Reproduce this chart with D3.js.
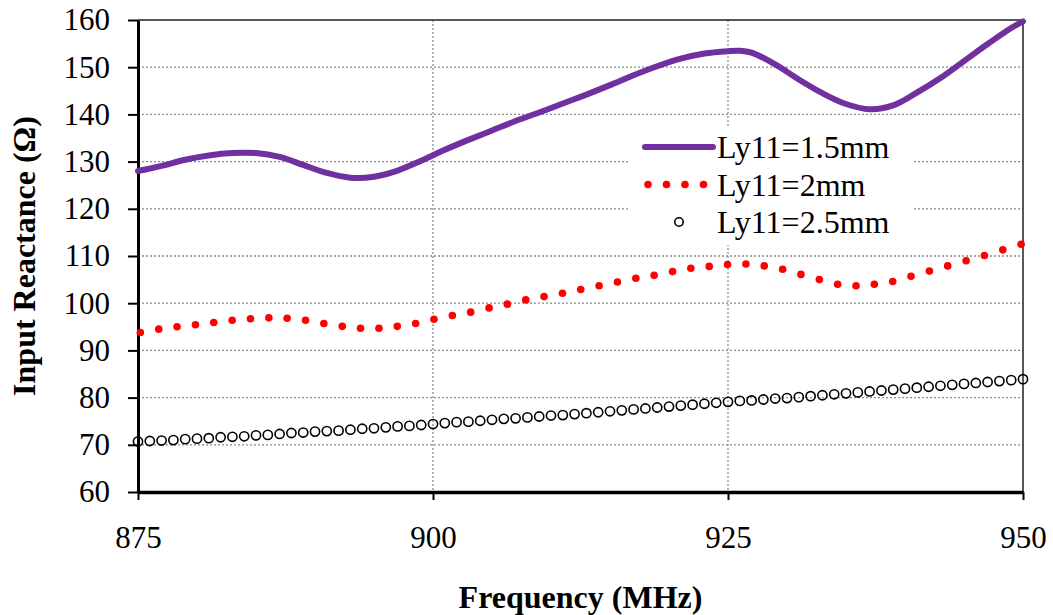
<!DOCTYPE html>
<html>
<head>
<meta charset="utf-8">
<script src="https://cdn.jsdelivr.net/npm/d3@7"></script>
<style>
  html, body { margin: 0; padding: 0; background: #fff; }
  svg { display: block; font-family: "Liberation Serif", "Times New Roman", serif; }
</style>
</head>
<body>
<div id="chart"></div>
<script>
// Ly11 = 1.5 mm (solid purple line)
const freq15 = [875, 877, 879, 881, 883, 885, 887, 889, 891, 893, 895, 897, 899, 901, 903, 905, 907, 909,
  911, 913, 915, 917, 919, 921, 923, 925, 926, 927, 929, 931, 933, 935, 937, 939, 941, 943, 945, 947, 949, 950];
const react15 = [128.0, 129.1, 130.4, 131.3, 131.8, 131.8, 131.0, 129.3, 127.6, 126.6, 126.8, 128.1, 130.2,
  132.5, 134.6, 136.6, 138.6, 140.4, 142.3, 144.2, 146.2, 148.3, 150.2, 151.8, 152.9, 153.4, 153.5, 153.1,
  150.6, 147.4, 144.5, 142.2, 141.1, 141.9, 144.6, 147.7, 151.3, 154.9, 158.3, 159.7];

// Ly11 = 2 mm (red dots)
const freq2 = [875.20, 876.76, 878.31, 879.87, 881.42, 882.98, 884.53, 886.09, 887.64, 889.20, 890.75,
  892.31, 893.86, 895.42, 896.97, 898.53, 900.08, 901.64, 903.19, 904.75, 906.30, 907.86, 909.41, 910.97,
  912.52, 914.08, 915.63, 917.19, 918.74, 920.30, 921.85, 923.41, 924.96, 926.52, 928.07, 929.63, 931.18,
  932.74, 934.29, 935.85, 937.40, 938.96, 940.51, 942.07, 943.62, 945.18, 946.73, 948.29, 949.84];
const react2 = [93.8, 94.5, 95.0, 95.45, 95.9, 96.4, 96.7, 96.9, 96.8, 96.4, 95.7, 95.1, 94.7, 94.7, 95.1,
  95.7, 96.6, 97.4, 98.1, 99.0, 99.8, 100.7, 101.4, 102.1, 102.9, 103.7, 104.5, 105.3, 105.9, 106.7, 107.4,
  107.8, 108.2, 108.3, 107.9, 107.2, 106.1, 105.0, 104.0, 103.7, 104.0, 104.6, 105.7, 106.8, 107.9, 109.0,
  110.1, 111.3, 112.5];

// Ly11 = 2.5 mm (open circles)
const freq25 = [875, 876, 877, 878, 879, 880, 881, 882, 883, 884, 885, 886, 887, 888, 889, 890, 891, 892,
  893, 894, 895, 896, 897, 898, 899, 900, 901, 902, 903, 904, 905, 906, 907, 908, 909, 910, 911, 912, 913,
  914, 915, 916, 917, 918, 919, 920, 921, 922, 923, 924, 925, 926, 927, 928, 929, 930, 931, 932, 933, 934,
  935, 936, 937, 938, 939, 940, 941, 942, 943, 944, 945, 946, 947, 948, 949, 950];
const react25 = [70.7, 70.8, 70.9, 71.0, 71.2, 71.3, 71.4, 71.6, 71.7, 71.8, 72.0, 72.1, 72.3, 72.5, 72.6,
  72.8, 72.9, 73.0, 73.2, 73.4, 73.5, 73.7, 73.9, 74.0, 74.2, 74.4, 74.6, 74.8, 74.9, 75.1, 75.3, 75.5, 75.6,
  75.8, 76.0, 76.2, 76.3, 76.5, 76.7, 76.9, 77.1, 77.3, 77.5, 77.7, 77.9, 78.1, 78.3, 78.5, 78.7, 78.9, 79.1,
  79.3, 79.4, 79.6, 79.8, 79.9, 80.1, 80.3, 80.5, 80.7, 80.9, 81.1, 81.3, 81.5, 81.7, 81.9, 82.1, 82.3, 82.5,
  82.7, 82.9, 83.1, 83.3, 83.5, 83.7, 83.9];

const xTicks = [875, 900, 925, 950];
const yTicks = [60, 70, 80, 90, 100, 110, 120, 130, 140, 150, 160];
const legendLabels = ["Ly11=1.5mm", "Ly11=2mm", "Ly11=2.5mm"];

const width = 1053;
const height = 615;
const marginTop = 20;
const marginRight = 30;
const marginBottom = 123;
const marginLeft = 138;

const x = d3.scaleLinear()
    .domain([875, 950])
    .range([marginLeft, width - marginRight]);

const y = d3.scaleLinear()
    .domain([60, 160])
    .range([height - marginBottom, marginTop]);

const svg = d3.select("#chart")
  .append("svg")
    .attr("width", width)
    .attr("height", height)
    .attr("viewBox", [0, 0, width, height]);

// dotted grid lines
svg.append("g")
    .attr("stroke", "#8c8c8c")
    .attr("stroke-width", 1.3)
    .attr("stroke-dasharray", "2,2")
  .selectAll("line")
  .data(yTicks.filter(d => d > 60 && d < 160))
  .join("line")
    .attr("x1", marginLeft)
    .attr("x2", width - marginRight)
    .attr("y1", d => y(d))
    .attr("y2", d => y(d));

svg.append("g")
    .attr("stroke", "#8c8c8c")
    .attr("stroke-width", 1.3)
    .attr("stroke-dasharray", "2,2")
  .selectAll("line")
  .data(xTicks.filter(d => d > 875 && d < 950))
  .join("line")
    .attr("x1", d => x(d))
    .attr("x2", d => x(d))
    .attr("y1", marginTop)
    .attr("y2", height - marginBottom);

// plot area border (top and right)
svg.append("path")
    .attr("fill", "none")
    .attr("stroke", "#222")
    .attr("stroke-width", 1.5)
    .attr("d", `M${marginLeft},${y(160)}H${x(950)}V${y(60)}`);

// x axis
svg.append("g")
    .attr("transform", `translate(0,${y(60)})`)
    .call(d3.axisBottom(x).tickValues(xTicks).tickSize(8).tickSizeOuter(0).tickPadding(26))
    .call(g => g.select(".domain").attr("stroke-width", 3.5))
    .call(g => g.selectAll(".tick line").attr("stroke-width", 2))
    .call(g => g.selectAll(".tick text")
        .attr("font-size", 31)
        .attr("font-family", "Liberation Serif, Times New Roman, serif")
        .attr("fill", "#000"));

// y axis
svg.append("g")
    .attr("transform", `translate(${marginLeft},0)`)
    .call(d3.axisLeft(y).tickValues(yTicks).tickSize(10).tickSizeOuter(0).tickPadding(18))
    .call(g => g.select(".domain").attr("stroke-width", 3))
    .call(g => g.selectAll(".tick line").attr("stroke-width", 2))
    .call(g => g.selectAll(".tick text")
        .attr("font-size", 31)
        .attr("font-family", "Liberation Serif, Times New Roman, serif")
        .attr("fill", "#000"));

// Ly11 = 2.5 mm circles
svg.append("g")
    .attr("fill", "none")
    .attr("stroke", "#000")
    .attr("stroke-width", 1.6)
  .selectAll("circle")
  .data(freq25.map((f, i) => [f, react25[i]]))
  .join("circle")
    .attr("cx", d => x(d[0]))
    .attr("cy", d => y(d[1]))
    .attr("r", 4.6);

// Ly11 = 2 mm dots
svg.append("g")
    .attr("fill", "#ff0000")
  .selectAll("circle")
  .data(freq2.map((f, i) => [f, react2[i]]))
  .join("circle")
    .attr("cx", d => x(d[0]))
    .attr("cy", d => y(d[1]))
    .attr("r", 3.8);

// Ly11 = 1.5 mm line
const line = d3.line()
    .x(d => x(d[0]))
    .y(d => y(d[1]))
    .curve(d3.curveCatmullRom);

svg.append("path")
    .datum(freq15.map((f, i) => [f, react15[i]]))
    .attr("fill", "none")
    .attr("stroke", "#7030a0")
    .attr("stroke-width", 6)
    .attr("stroke-linecap", "round")
    .attr("d", line);

// legend
const legend = svg.append("g").attr("transform", "translate(645,147)");
const rowGap = 37.5;

legend.append("rect")
    .attr("x", -17).attr("y", -19)
    .attr("width", 284).attr("height", 117)
    .attr("fill", "#fff");

legend.append("line")
    .attr("x1", 0).attr("x2", 68)
    .attr("y1", 0).attr("y2", 0)
    .attr("stroke", "#7030a0")
    .attr("stroke-width", 6)
    .attr("stroke-linecap", "round");

legend.append("g")
    .attr("fill", "#ff0000")
  .selectAll("circle")
  .data([3, 21.5, 40, 58.5])
  .join("circle")
    .attr("cx", d => d)
    .attr("cy", rowGap)
    .attr("r", 3.8);

legend.append("circle")
    .attr("cx", 34).attr("cy", rowGap * 2)
    .attr("r", 4.2)
    .attr("fill", "none")
    .attr("stroke", "#000")
    .attr("stroke-width", 1.6);

legend.selectAll("text")
  .data(legendLabels)
  .join("text")
    .attr("x", 72)
    .attr("y", (d, i) => i * rowGap + 11)
    .attr("font-size", 32)
    .attr("fill", "#000")
    .text(d => d);

// axis titles
svg.append("text")
    .attr("x", (marginLeft + width - marginRight) / 2)
    .attr("y", 608)
    .attr("text-anchor", "middle")
    .attr("font-size", 32)
    .attr("font-weight", "bold")
    .text("Frequency (MHz)");

svg.append("text")
    .attr("transform", `translate(35,${(y(60) + y(160)) / 2}) rotate(-90)`)
    .attr("text-anchor", "middle")
    .attr("font-size", 32)
    .attr("font-weight", "bold")
    .text("Input Reactance (Ω)");
</script>
</body>
</html>
